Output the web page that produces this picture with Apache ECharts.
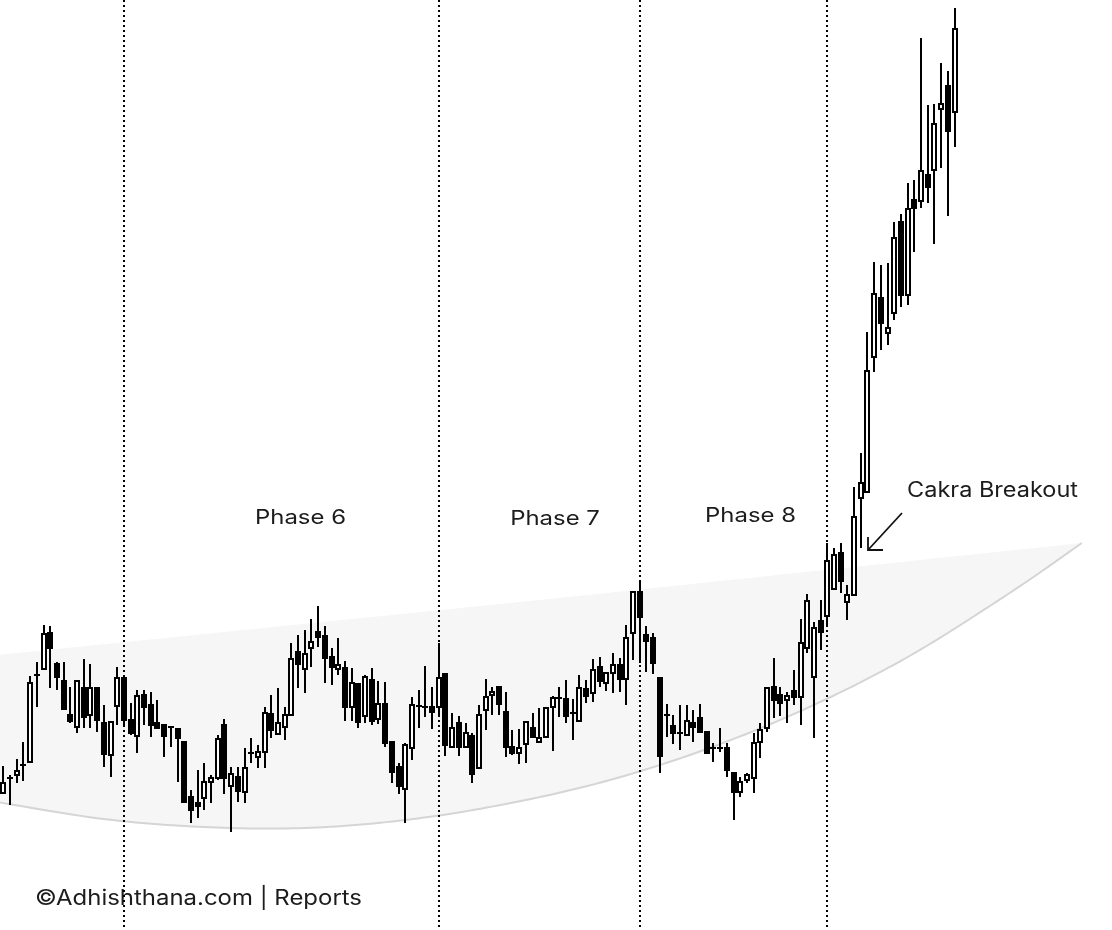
<!DOCTYPE html>
<html>
<head>
<meta charset="utf-8">
<title>Cakra Breakout</title>
<script src="https://cdn.jsdelivr.net/npm/echarts@6/dist/echarts.min.js"></script>
<style>
  html, body { margin: 0; padding: 0; background: #ffffff; }
  #chart { width: 1112px; height: 930px; }
</style>
</head>
<body>
<div id="chart"></div>
<script>
// Daily sessions, oldest first (price in chart points)
const opens = [
  137,152,155,165,168,255,261,297,266,249,215,203,242,215,242,207,175,224,252,210,
  194,235,225,207,205,203,201,188,133,127,132,148,152,205,144,153,138,177,173,178,
  216,196,203,215,278,261,282,298,294,273,261,262,223,246,214,250,211,226,188,163,
  141,182,224,223,223,223,256,183,207,183,194,162,220,235,243,218,183,177,186,202,
  188,193,223,232,231,217,209,241,237,263,247,257,265,251,297,338,295,292,252,215,
  204,197,195,207,212,198,182,182,182,157,138,150,152,188,202,243,235,230,239,233,
  282,253,309,314,341,377,328,335,432,438,573,632,597,617,708,635,730,729,755,760,
  821,844,818
];
const closes = [
  147,152,159,165,247,255,296,282,253,221,209,249,213,242,210,176,208,252,210,197,
  234,223,205,202,194,203,192,128,120,124,148,152,191,152,156,139,162,177,178,217,
  200,207,215,271,266,276,288,293,272,263,265,223,247,208,253,209,226,187,158,144,
  185,225,224,223,218,252,185,202,183,197,156,215,233,238,226,183,177,182,208,193,
  192,222,232,232,214,217,242,234,260,249,257,265,251,292,338,313,289,267,174,215,
  197,197,209,203,198,177,182,182,160,138,148,155,187,200,242,230,227,234,233,287,
  329,302,298,369,375,349,335,413,447,559,636,607,602,692,635,721,722,759,743,806,
  826,799,901
];
const lows = [
  136,125,147,149,168,223,261,242,240,220,207,197,202,202,198,163,153,205,205,195,
  177,205,193,202,173,183,148,128,107,112,120,127,150,136,98,128,127,167,162,162,
  192,196,190,215,242,237,263,283,247,245,255,209,209,202,207,205,206,183,147,136,
  107,170,202,213,201,213,174,183,174,183,147,162,200,215,215,173,175,166,167,192,
  188,192,179,213,207,190,208,227,228,243,239,237,238,225,270,267,258,256,157,193,
  186,180,195,188,197,177,168,178,153,110,133,147,137,172,198,212,214,207,225,205,
  277,192,280,305,340,337,310,335,382,438,558,580,585,610,623,625,678,722,727,686,
  762,714,783
];
const highs = [
  164,155,171,188,254,268,305,304,268,268,243,250,271,266,242,225,208,263,252,227,
  240,240,238,230,205,203,201,188,140,160,167,155,195,211,163,163,182,192,185,223,
  235,242,223,287,295,300,311,324,304,282,292,269,262,246,255,262,249,248,188,167,
  187,233,240,264,243,287,256,217,214,207,197,225,251,243,243,238,200,201,208,217,
  222,223,234,243,250,231,255,250,271,273,258,277,272,305,338,348,304,297,252,226,
  215,225,225,220,226,198,187,202,187,157,153,157,197,207,242,272,243,238,260,311,
  336,308,330,387,382,387,345,443,477,598,668,665,667,708,716,747,750,892,825,826,
  867,859,922
];

// Session slots on the time axis (room on the right for the channel's tip)
const sessionCount = 166;
const categories = Array.from({ length: sessionCount }, (_, i) => String(i + 1));

// Sessions where a new phase begins
const phaseStarts = [18, 65, 95, 123];
const phaseLabels = ['Phase 6', 'Phase 7', 'Phase 8'];

// Cakra channel: straight upper rim, curved lower rim (session index, price)
const rimTopX = [-1, 80, 161];
const rimTopY = [275, 330, 387];
const rimLowX = [-1, 15, 30, 45, 60, 75, 90, 105, 120, 135, 150, 161];
const rimLowY = [128, 111, 103, 102, 110, 126, 149, 181, 222, 273, 336, 387];

// [session, open, close, low, high]
const candles = opens.map((o, i) => [i, o, closes[i], lows[i], highs[i]]);

// Catmull-Rom through pixel points
function spline(pts, steps) {
  const out = [];
  for (let i = 0; i < pts.length - 1; i++) {
    const p0 = pts[Math.max(i - 1, 0)], p1 = pts[i], p2 = pts[i + 1], p3 = pts[Math.min(i + 2, pts.length - 1)];
    for (let s = 0; s < steps; s++) {
      const t = s / steps, t2 = t * t, t3 = t2 * t;
      out.push([0, 1].map(k => 0.5 * ((2 * p1[k]) + (-p0[k] + p2[k]) * t +
        (2 * p0[k] - 5 * p1[k] + 4 * p2[k] - p3[k]) * t2 +
        (-p0[k] + 3 * p1[k] - 3 * p2[k] + p3[k]) * t3)));
    }
  }
  out.push(pts[pts.length - 1]);
  return out;
}

const chart = echarts.init(document.getElementById('chart'), null, { renderer: 'canvas' });

const slot = 6.72;
const gridLeft = -1.36;

// Fit text to a given width with a horizontal stretch
const measureCtx = document.createElement('canvas').getContext('2d');
function stretchFor(text, font, width) {
  measureCtx.font = font;
  return width / measureCtx.measureText(text).width;
}
const phaseFont = '400 20px Inter';
const noteFont = '400 21px Inter';
const footFont = '400 21px Inter';
const phaseStretch = stretchFor('Phase 6', phaseFont, 91);
const noteStretch = stretchFor('Cakra Breakout', noteFont, 171);
const footText = '\u00A9Adhishthana.com | Reports';
const footStretch = stretchFor(footText, footFont, 327);

const phaseCenters = [300.5, 555, 750.5];
const phaseY = [518, 519, 516];

const graphics = phaseLabels.map((t, i) => ({
  type: 'text', x: phaseCenters[i], y: phaseY[i], scaleX: phaseStretch, silent: true,
  style: { text: t, font: phaseFont, fill: '#1c1c1c', textAlign: 'center', textVerticalAlign: 'middle' }
}));
graphics.push({
  type: 'text', x: 907, y: 491, scaleX: noteStretch, silent: true,
  style: { text: 'Cakra Breakout', font: noteFont, fill: '#1c1c1c', textAlign: 'left', textVerticalAlign: 'middle' }
});
graphics.push({
  type: 'text', x: 35, y: 899, scaleX: footStretch, silent: true,
  style: { text: footText, font: footFont, fill: '#1c1c1c', textAlign: 'left', textVerticalAlign: 'middle' }
});
// Arrow pointing at the breakout candle
graphics.push({
  type: 'line', silent: true,
  shape: { x1: 902, y1: 513, x2: 868, y2: 550 },
  style: { stroke: '#111', lineWidth: 1.8 }
});
graphics.push({
  type: 'polyline', silent: true,
  shape: { points: [[868, 537], [868, 550], [883, 550]] },
  style: { stroke: '#111', lineWidth: 1.8, fill: null }
});

// Crisp candles: 2px wicks and borders snapped to whole pixels
function renderCandle(params, api) {
  const i = api.value(0);
  const o = api.value(1), c = api.value(2), lo = api.value(3), hi = api.value(4);
  const x = Math.round(api.coord([i, o])[0]);
  const yO = Math.round(api.coord([i, o])[1]);
  const yC = Math.round(api.coord([i, c])[1]);
  const yL = Math.round(api.coord([i, lo])[1]);
  const yH = Math.round(api.coord([i, hi])[1]);
  const top = Math.min(yO, yC), bot = Math.max(yO, yC);
  const children = [
    { type: 'rect', shape: { x: x - 1, y: yH, width: 2, height: Math.max(yL - yH, 1) }, style: { fill: '#000' } },
    { type: 'rect', shape: { x: x - 3, y: top - 1, width: 6, height: bot - top + 2 }, style: { fill: '#000' } }
  ];
  if (c > o && bot - top > 2) {
    children.push({ type: 'rect', shape: { x: x - 1, y: top + 1, width: 2, height: bot - top - 2 }, style: { fill: '#fff' } });
  }
  return { type: 'group', children };
}

// Dotted phase dividers, full height
function renderDivider(params, api) {
  const x = Math.round(api.coord([api.value(0), 0])[0]);
  const cs = params.coordSys;
  return {
    type: 'line',
    shape: { x1: x, y1: cs.y, x2: x, y2: cs.y + cs.height },
    style: { stroke: '#000', lineWidth: 2, lineDash: [2, 3] }
  };
}

chart.setOption({
  animation: false,
  backgroundColor: '#ffffff',
  grid: { left: gridLeft, top: 0, width: slot * sessionCount, height: 930 },
  xAxis: [
    { type: 'category', data: categories, boundaryGap: true, show: false },
    { type: 'value', min: -0.5, max: sessionCount - 0.5, show: false }
  ],
  yAxis: { type: 'value', min: 0, max: 930, show: false },
  graphic: graphics,
  series: [
    {
      type: 'custom',
      name: 'Cakra channel',
      xAxisIndex: 1,
      yAxisIndex: 0,
      silent: true,
      z: 1,
      data: [[0, 0]],
      renderItem: function (params, api) {
        const top = rimTopX.map((x, i) => api.coord([x, rimTopY[i]]));
        const low = spline(rimLowX.map((x, i) => api.coord([x, rimLowY[i]])), 16);
        const poly = top.concat(low.slice().reverse());
        return {
          type: 'group',
          children: [
            { type: 'polygon', shape: { points: poly }, style: { fill: '#f6f6f6', stroke: null } },
            { type: 'polyline', shape: { points: low }, style: { stroke: '#d5d5d5', lineWidth: 2, fill: null } }
          ]
        };
      }
    },
    {
      type: 'custom',
      name: 'Phase dividers',
      xAxisIndex: 0,
      yAxisIndex: 0,
      silent: true,
      z: 2,
      data: phaseStarts.map(i => [i]),
      encode: { x: 0 },
      renderItem: renderDivider
    },
    {
      type: 'custom',
      name: 'Price',
      xAxisIndex: 0,
      yAxisIndex: 0,
      silent: true,
      z: 3,
      data: candles,
      encode: { x: 0, y: [1, 2, 3, 4] },
      renderItem: renderCandle
    }
  ]
});
</script>
</body>
</html>
